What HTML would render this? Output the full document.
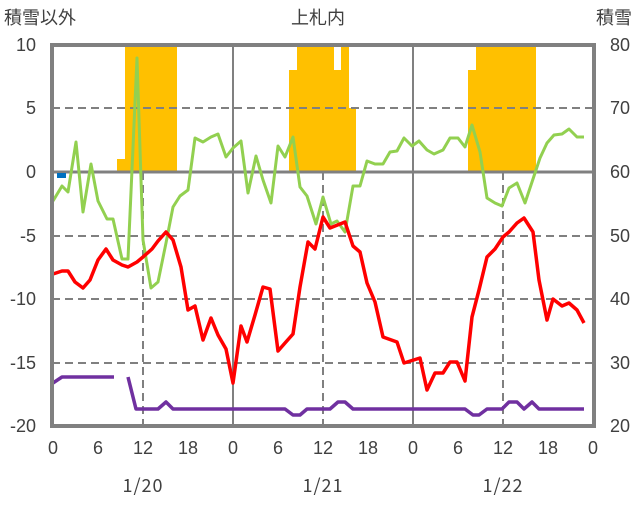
<!DOCTYPE html>
<html><head><meta charset="utf-8"><style>
body{margin:0;background:#fff}
text{font-family:"Liberation Sans","Noto Sans CJK JP",sans-serif;fill:#404040}
text.cjk{font-family:"Noto Sans CJK JP",sans-serif}
</style></head><body>
<svg width="636" height="501" viewBox="0 0 636 501" xmlns="http://www.w3.org/2000/svg">
<rect width="636" height="501" fill="#fff"/>
<g fill="#FFC000">
<rect x="117" y="159" width="8" height="13"/>
<rect x="125" y="45" width="52" height="127"/>
<rect x="289" y="70" width="8" height="102"/>
<rect x="297" y="45" width="37" height="127"/>
<rect x="334" y="70" width="7" height="102"/>
<rect x="341" y="45" width="8" height="127"/>
<rect x="349" y="108" width="7" height="64"/>
<rect x="468" y="70" width="8" height="102"/>
<rect x="476" y="45" width="60" height="127"/>
</g>
<g stroke="#808080" stroke-width="2" stroke-dasharray="8,5">
<line x1="52" y1="108" x2="594" y2="108"/>
<line x1="52" y1="236" x2="594" y2="236"/>
<line x1="52" y1="299" x2="594" y2="299"/>
<line x1="52" y1="363" x2="594" y2="363"/>
<line x1="143" y1="172" x2="143" y2="426"/>
<line x1="323" y1="172" x2="323" y2="426"/>
<line x1="503" y1="172" x2="503" y2="426"/>
</g>
<g stroke="#808080" stroke-width="2">
<line x1="233" y1="45" x2="233" y2="426"/>
<line x1="413" y1="45" x2="413" y2="426"/>
</g>
<line x1="52" y1="172" x2="594" y2="172" stroke="#808080" stroke-width="3"/>
<rect x="57" y="173" width="9" height="5" fill="#0070C0"/>
<g fill="none" stroke-width="3.5" stroke-linejoin="round">
<polyline stroke="#92D050" stroke-width="3" points="53,201 62,186 68,192 76,142 83,212 91,164 98,201 107,219 113,219 122,259 128,259 137,58 143,240 151,288 158,282 166,243 173,207 180,196 188,190 195,138 203,142 211,137 218,134 226,157 233,148 241,141 248,193 256,156 263,180 271,203 278,146 285,157 293,137 300,187 307,196 316,224 323,197 331,224 337,221 345,232 353,186 360,186 367,161 375,164 383,164 390,152 397,151 404,138 412,146 419,141 427,150 434,154 443,150 450,138 458,138 465,147 472,125 480,152 487,198 495,203 502,206 509,188 517,183 525,203 532,182 540,158 547,143 554,135 562,134 569,129 577,137 584,137"/>
<polyline stroke="#FF0000" points="53,274 62,271 68,271 75,282 83,288 90,280 98,260 106,249 113,260 122,265 128,267 137,262 143,257 152,249 158,241 166,232 173,240 181,267 188,310 195,306 203,340 211,318 218,335 226,349 233,383 241,326 247,342 255,315 263,287 270,289 278,351 285,343 293,334 300,287 308,242 315,249 323,217 330,228 345,222 353,246 360,252 367,283 375,302 383,337 397,342 404,363 420,358 427,390 435,373 443,373 450,362 457,362 465,381 472,317 479,290 487,257 495,249 503,237 509,232 517,223 524,218 533,232 539,280 547,320 553,299 562,306 569,303 577,310 584,323"/>
<polyline stroke="#7030A0" points="53,383 62,377 114,377"/>
<polyline stroke="#7030A0" points="128,377 136,409 158,409 166,402 173,409 285,409 293,415 300,415 307,409 330,409 338,402 345,402 353,409 465,409 473,415 479,415 487,409 502,409 509,402 517,402 524,409 532,402 539,409 584,409"/>
</g>
<rect x="52" y="45" width="542" height="381" fill="none" stroke="#808080" stroke-width="4"/>
<g font-size="18">
<text x="4" y="24">積雪以外</text>
<text x="318" y="24" text-anchor="middle">上札内</text>
<text x="632" y="24" text-anchor="end">積雪</text>
</g>
<g font-size="18" text-anchor="end">
<text x="36" y="51">10</text><text x="36" y="114">5</text><text x="36" y="178">0</text>
<text x="36" y="242">-5</text><text x="36" y="305">-10</text><text x="36" y="369">-15</text><text x="36" y="432">-20</text>
</g>
<g font-size="18" text-anchor="start">
<text x="610" y="51">80</text><text x="610" y="114">70</text><text x="610" y="178">60</text>
<text x="610" y="242">50</text><text x="610" y="305">40</text><text x="610" y="369">30</text><text x="610" y="432">20</text>
</g>
<g font-size="18" text-anchor="middle">
<text x="53" y="454">0</text><text x="98" y="454">6</text><text x="143" y="454">12</text><text x="188" y="454">18</text>
<text x="233" y="454">0</text><text x="278" y="454">6</text><text x="323" y="454">12</text><text x="368" y="454">18</text>
<text x="413" y="454">0</text><text x="458" y="454">6</text><text x="503" y="454">12</text><text x="548" y="454">18</text>
<text x="593" y="454">0</text>
<text class="cjk" x="143" y="492" letter-spacing="1">1/20</text><text class="cjk" x="323" y="492" letter-spacing="1">1/21</text><text class="cjk" x="503" y="492" letter-spacing="1">1/22</text>
</g>
</svg>
</body></html>
